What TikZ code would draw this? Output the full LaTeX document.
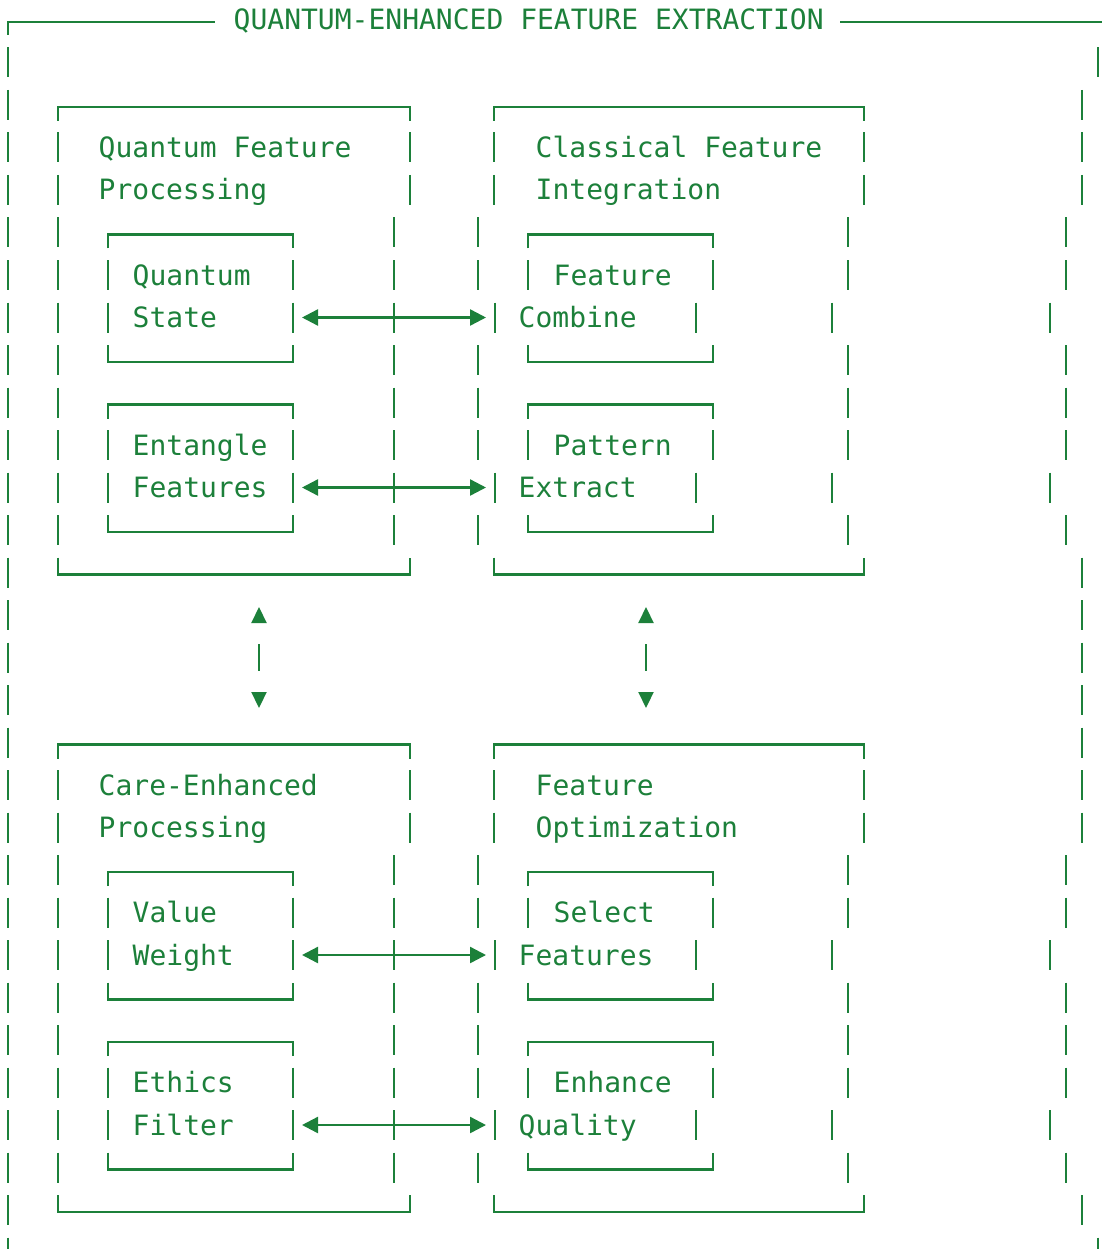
\documentclass[tikz,border=0pt]{standalone}
\usepackage{fontspec}
\setmonofont{DejaVu Sans Mono}
\usetikzlibrary{arrows.meta}
\definecolor{fg}{RGB}{28,128,58}
\tikzset{
  ln/.style={draw=fg, line width=2.2pt},
  txt/.style={text=fg, font=\ttfamily\fontsize{28}{34}\selectfont, inner sep=0pt, anchor=base west},
  harrow/.style={draw=fg, line width=2.4pt,
    {Triangle[length=16pt,width=16pt]}-{Triangle[length=16pt,width=16pt]},
    shorten <=9pt, shorten >=9pt},
  varrow/.style={draw=fg, line width=2.2pt,
    {Triangle[length=16pt,width=15pt]}-{Triangle[length=16pt,width=15pt]},
    shorten <=32.5pt, shorten >=36.5pt,
    dash pattern=on 0pt off 22pt on 27pt off 300pt}
}
% absolute rows
\newcommand\ry[1]{20+42.5*#1}
% local rows inside a block
\newcommand\ly[1]{105+42.5*#1}
\newcommand\absbars[2]{\foreach \xx in {#2}{\draw[ln] (\xx,\ry{#1}-15) -- (\xx,\ry{#1}+15);}}
\newcommand\lbars[2]{\foreach \xx in {#2}{\draw[ln] (\xx,\ly{#1}-15) -- (\xx,\ly{#1}+15);}}
\newcommand\btop[3]{\draw[ln] (#1,\ly{#3}+16) -- (#1,\ly{#3}+2) -- (#2,\ly{#3}+2) -- (#2,\ly{#3}+16);}
\newcommand\bbot[3]{\draw[ln] (#1,\ly{#3}-15) -- (#1,\ly{#3}+2) -- (#2,\ly{#3}+2) -- (#2,\ly{#3}-15);}
\newcommand\tx[4]{\node[txt] (#1) at (#2-1.5,\ry{#3}+10) {#4};}
\newcommand\blockframe[1]{%
  \btop{58}{410}{0}\btop{494}{864}{0}\lbars{0}{8,1082}
  \lbars{1}{8,58,410,494,864,1082}
  \lbars{2}{8,58,410,494,864,1082}
  \btop{108}{293}{3}\btop{528}{713}{3}\lbars{3}{8,58,394,478,848,1066}
  \lbars{4}{8,58,108,293,394,478,528,713,848,1066}
  \lbars{5}{8,58,108,293,394,495,696,832,1050}
  \bbot{108}{293}{6}\bbot{528}{713}{6}\lbars{6}{8,58,394,478,848,1066}
  \btop{108}{293}{7}\btop{528}{713}{7}\lbars{7}{8,58,394,478,848,1066}
  \lbars{8}{8,58,108,293,394,478,528,713,848,1066}
  \lbars{9}{8,58,108,293,394,495,696,832,1050}
  \bbot{108}{293}{10}\bbot{528}{713}{10}\lbars{10}{8,58,394,478,848,1066}
  \bbot{58}{410}{11}\bbot{494}{864}{11}\lbars{11}{8,1082}
  \coordinate (aL#1) at (293,\ly{5});
  \coordinate (aR#1) at (495,\ly{5});
  \coordinate (bL#1) at (293,\ly{9});
  \coordinate (bR#1) at (495,\ly{9});
  \draw[harrow] (aL#1) -- (aR#1);
  \draw[harrow] (bL#1) -- (bR#1);
}
\begin{document}
\begin{tikzpicture}[x=1pt,y=-1pt]
\useasboundingbox (0,0) rectangle (1102,1249);
% outer frame
\draw[ln] (8,35) -- (8,22) -- (215,22);
\draw[ln] (840,22) -- (1102,22);
\tx{title}{235}{0}{QUANTUM-ENHANCED FEATURE EXTRACTION}
\absbars{1}{8,1098}
\absbars{14}{8,1082}
\absbars{15}{8,1082}
\absbars{16}{8,1082}
\absbars{29}{8,1098}
% blocks
\blockframe{top}
\begin{scope}[shift={(0,637.5)}]
\blockframe{bot}
\end{scope}
% texts, top block
\tx{tQ1}{100}{3}{Quantum Feature}
\tx{tQ2}{100}{4}{Processing}
\tx{tC1}{537}{3}{Classical Feature}
\tx{tC2}{537}{4}{Integration}
\tx{qs1}{134}{6}{Quantum}
\tx{qs2}{134}{7}{State}
\tx{fc1}{555}{6}{Feature}
\tx{fc2}{520}{7}{Combine}
\tx{ef1}{134}{10}{Entangle}
\tx{ef2}{134}{11}{Features}
\tx{pe1}{555}{10}{Pattern}
\tx{pe2}{520}{11}{Extract}
% texts, bottom block
\tx{tE1}{100}{18}{Care-Enhanced}
\tx{tE2}{100}{19}{Processing}
\tx{tO1}{537}{18}{Feature}
\tx{tO2}{537}{19}{Optimization}
\tx{vw1}{134}{21}{Value}
\tx{vw2}{134}{22}{Weight}
\tx{sf1}{555}{21}{Select}
\tx{sf2}{520}{22}{Features}
\tx{eh1}{134}{25}{Ethics}
\tx{eh2}{134}{26}{Filter}
\tx{eq1}{555}{25}{Enhance}
\tx{eq2}{520}{26}{Quality}
% vertical connectors between blocks
\coordinate (vqa) at (259,574.5);
\coordinate (vqb) at (259,744.5);
\coordinate (vca) at (646,574.5);
\coordinate (vcb) at (646,744.5);
\draw[varrow] (vqa) -- (vqb);
\draw[varrow] (vca) -- (vcb);
\end{tikzpicture}
\end{document}
